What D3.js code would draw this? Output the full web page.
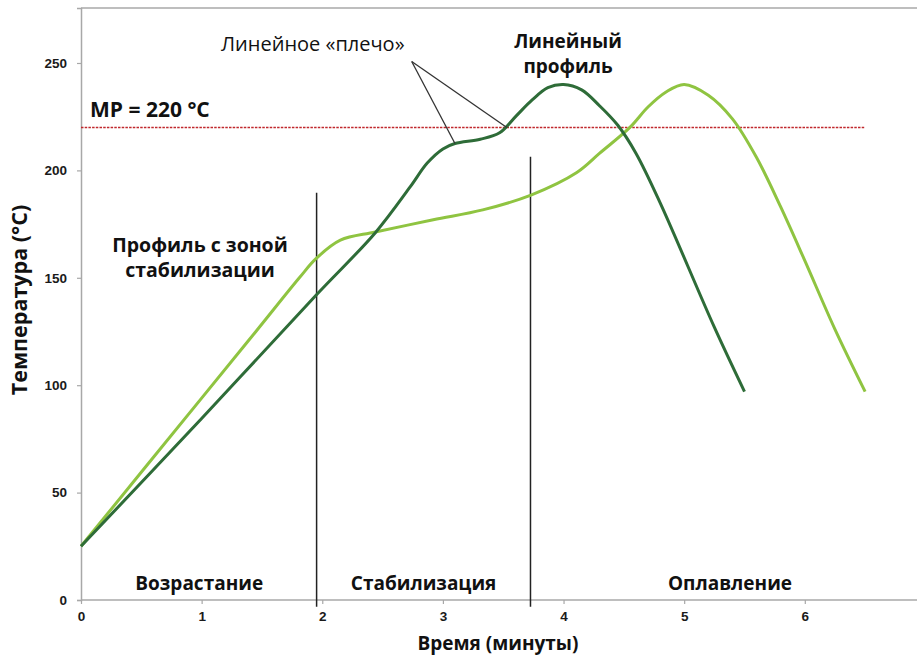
<!DOCTYPE html>
<html>
<head>
<meta charset="utf-8">
<script src="https://cdn.jsdelivr.net/npm/d3@7.9.0/dist/d3.min.js"></script>
<style>
  body { margin: 0; background: #fff; }
  svg { display: block; }
  .lbl { font-family: "Open Sans", Lato, sans-serif; fill: #111; }
  .tick text { font-family: "Liberation Sans", Arial, sans-serif; font-weight: 700; font-size: 13.5px; fill: #1a1a1a; }
</style>
</head>
<body>
<svg id="chart" width="917" height="658"></svg>
<script>
// линейный профиль (тёмно-зелёный)
const linTime = [0, 1, 1.95, 2.44, 2.73, 2.87, 3.0, 3.1, 3.31, 3.47, 3.61, 3.74, 3.87, 4.0, 4.15, 4.3, 4.45, 4.6, 4.8, 5.25, 5.5];
const linTemp = [25, 84.5, 142, 171, 192.4, 203.4, 210, 212.5, 214.5, 217.5, 225.5, 232.8, 238.5, 240, 237.5, 230, 221, 208, 185, 127, 97];

// профиль с зоной стабилизации (светло-зелёный)
const soakTime = [0, 1, 1.45, 1.81, 1.95, 2.15, 2.44, 2.92, 3.33, 3.73, 4.11, 4.3, 4.55, 4.7, 4.85, 5.0, 5.2, 5.4, 5.6, 5.8, 6.0, 6.25, 6.5];
const soakTemp = [25, 94, 125, 150, 159, 167.5, 171.3, 177, 181.6, 188.5, 199, 208, 220, 229.5, 236.5, 240, 235, 224, 206, 183, 158, 126, 97];

const xTicks = [0, 1, 2, 3, 4, 5, 6];
const yTicks = [0, 50, 100, 150, 200, 250];
const meltPoint = 220;

// границы фаз: [время, верх линии]
const phaseBounds = [[1.953, 189.6], [3.726, 206.4]];
const phaseNames = ["Возрастание", "Стабилизация", "Оплавление"];
const phaseCenters = [0.98, 2.84, 5.38];

const svg = d3.select("#chart");
const x = d3.scaleLinear().domain([0, 6.93]).range([81, 917]);
const y = d3.scaleLinear().domain([0, 275.6]).range([600, 8]);

// рамка сверху
svg.append("line")
  .attr("x1", x(0)).attr("x2", 917)
  .attr("y1", y(275.6)).attr("y2", y(275.6))
  .attr("stroke", "#a8a8a8").attr("stroke-width", 1.5);

const xAxis = svg.append("g")
  .attr("transform", `translate(0,${y(0)})`)
  .call(d3.axisBottom(x).tickValues(xTicks).tickSize(4).tickPadding(7).tickFormat(d3.format("d")));
const yAxis = svg.append("g")
  .attr("transform", `translate(${x(0)},0)`)
  .call(d3.axisLeft(y).tickValues(yTicks).tickSize(4).tickPadding(10));
[xAxis, yAxis].forEach(a => {
  a.select(".domain").attr("stroke", "#a8a8a8").attr("stroke-width", 1.5);
  a.selectAll(".tick line").attr("stroke", "#a8a8a8").attr("stroke-width", 1.2);
});
xAxis.select(".domain").attr("d", `M${x(0)},0H917`);

// линия MP
svg.append("line")
  .attr("x1", x(0)).attr("x2", 865)
  .attr("y1", y(meltPoint)).attr("y2", y(meltPoint))
  .attr("stroke", "#c0282d").attr("stroke-width", 1.6)
  .attr("stroke-dasharray", "2.5,1.2");

// границы фаз
phaseBounds.forEach(([t, top]) => {
  svg.append("line")
    .attr("x1", x(t)).attr("x2", x(t))
    .attr("y1", y(top)).attr("y2", y(-3.2))
    .attr("stroke", "#222").attr("stroke-width", 1.5);
});

const line = d3.line()
  .x(d => x(d[0]))
  .y(d => y(d[1]))
  .curve(d3.curveCatmullRom.alpha(0.5));

svg.append("path")
  .datum(soakTime.map((t, i) => [t, soakTemp[i]]))
  .attr("d", line)
  .attr("fill", "none").attr("stroke", "#8fc441").attr("stroke-width", 3);

svg.append("path")
  .datum(linTime.map((t, i) => [t, linTemp[i]]))
  .attr("d", line)
  .attr("fill", "none").attr("stroke", "#2e6c38").attr("stroke-width", 3);

// выноски «плечо»
const apex = [411.7, 61.5];
[[3.1, 212.5], [3.53, 220]].forEach(p => {
  svg.append("line")
    .attr("x1", apex[0]).attr("y1", apex[1])
    .attr("x2", x(p[0])).attr("y2", y(p[1]))
    .attr("stroke", "#333").attr("stroke-width", 1.3);
});

function text(str, px, py, size, weight, anchor) {
  svg.append("text").attr("class", "lbl")
    .attr("x", px).attr("y", py)
    .attr("text-anchor", anchor || "middle")
    .style("font-size", size + "px")
    .style("font-weight", weight)
    .text(str);
}

phaseNames.forEach((n, i) => text(n, x(phaseCenters[i]), 590, 19, 700));

text("MP = 220 °C", 90, 117, 21, 700, "start");
text("Линейное «плечо»", 221, 51, 20, 400, "start");
text("Линейный", 568, 48, 19, 700);
text("профиль", 568, 73, 19, 700);
text("Профиль с зоной", 200, 252, 19.5, 700);
text("стабилизации", 200, 277, 19.5, 700);

text("Время (минуты)", 498, 650, 19, 700);
svg.append("text").attr("class", "lbl")
  .attr("transform", "translate(27,300) rotate(-90)")
  .attr("text-anchor", "middle")
  .style("font-size", "21.5px")
  .style("font-weight", 700)
  .text("Температура (°C)");
</script>
</body>
</html>
